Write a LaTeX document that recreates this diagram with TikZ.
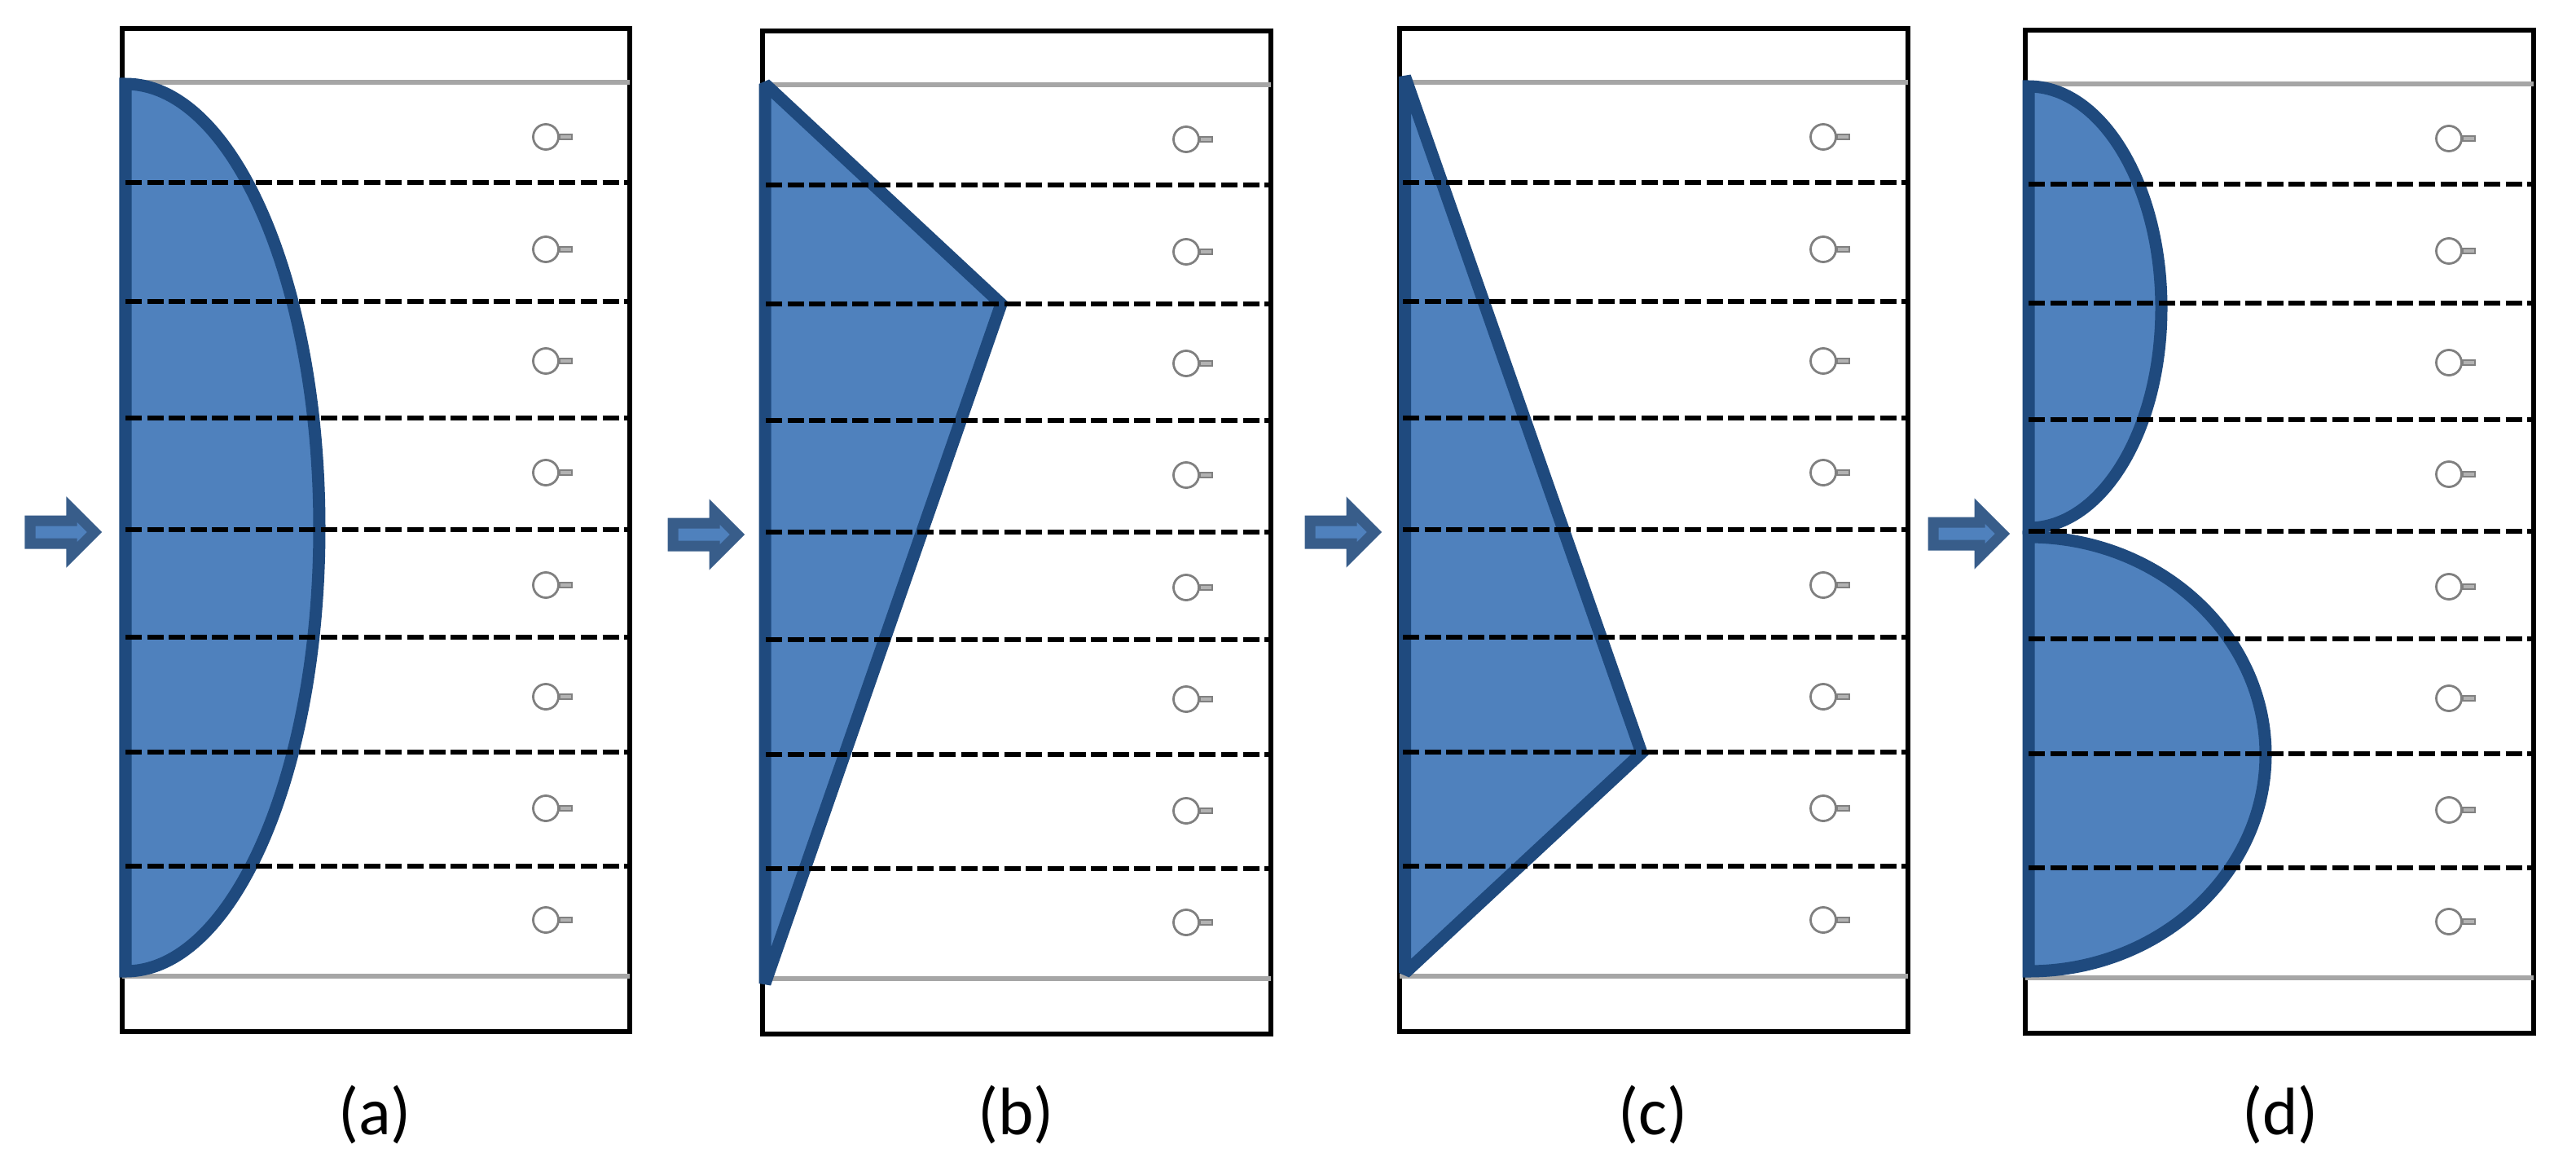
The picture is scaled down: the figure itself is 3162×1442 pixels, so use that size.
\documentclass[tikz,border=0pt]{standalone}
\usepackage{fontspec}
\setmainfont{Carlito}
\definecolor{flowfill}{HTML}{4F81BD}
\definecolor{flowline}{HTML}{1F4A7E}
\definecolor{arrowline}{HTML}{385D8A}
\begin{document}
\begin{tikzpicture}[
					x=0.01cm,y=-0.01cm,
					frame/.style={draw=black,line width=0.065cm},
					wall/.style={draw=black!35,line width=0.06cm},
					cut/.style={draw=black,line width=0.065cm,dash pattern=on 0.2cm off 0.066cm},
					profile/.style={draw=flowline,fill=flowfill,line width=0.15cm,miter limit=2},
					inflow/.style={draw=arrowline,fill=flowfill,line width=0.13cm},
					sensor/.style={circle,draw=black!50,line width=0.028cm,inner sep=0pt,minimum size=0.31cm},
					tail/.style={draw=black!50,fill=black!30,line width=0.02cm},
					caption/.style={font=\fontsize{23.5}{26}\selectfont}
					]
					\useasboundingbox (0,0) rectangle (3162,1442);
					\foreach \q/\x/\dy/\w in {a/150/0/623,b/936/3/624,c/1718/0/624,d/2486/2/624}{
						\begin{scope}[shift={(\x,\dy)}]
							\draw[frame] (0,35) rectangle (\w,1266);
							\draw[wall] (0,101) -- (\w,101);
							\draw[wall] (0,1198) -- (\w,1198);
						\end{scope}
					}
					% flow profiles
					\draw[profile] (154,103) .. controls (286,103) and (392,347) .. (392,648) .. controls (392,949) and (286,1192) .. (154,1192) -- cycle;
					\draw[profile] (939,103) -- (1229,373) -- (939,1207) -- cycle;
					\draw[profile] (1724.5,94) -- (2015,924) -- (1724.5,1194) -- cycle;
					\draw[profile] (2490,106) .. controls (2580,106) and (2653,228) .. (2653,378) .. controls (2653,528) and (2580,648) .. (2490,648) -- cycle;
					\draw[profile] (2490,659) .. controls (2651,659) and (2781,780) .. (2781,926) .. controls (2781,1072) and (2651,1192) .. (2490,1192) -- cycle;
					\foreach \q/\x/\dy/\tip/\len/\cx in {a/150/0/125/51/460,b/936/3/914/51/1247,c/1718/0/1696/51/2029,d/2486/2/2467/57/2799}{
						\begin{scope}[shift={(\x,\dy)}]
							\foreach \y in {224,370,513,650,782,923,1063}{
								\draw[cut] (4,\y) -- (621,\y);
							}
							\foreach \k/\y in {1/168,2/306,3/443,4/580,5/718,6/855,7/992,8/1129}{
								\node[sensor] (s\q\k) at (520,\y) {};
								\draw[tail] (s\q\k.east) ++(0,-3) rectangle ++(15,6);
							}
						\end{scope}
						\draw[inflow] (\tip-9,653+\dy) -- ++(-28,-28) -- ++(0,14) -- ++(-\len,0) -- ++(0,28) -- ++(\len,0) -- ++(0,14) -- cycle;
						\node[caption] (lab\q) at (\cx,1368) {(\q)};
					}
				\end{tikzpicture}
\end{document}
